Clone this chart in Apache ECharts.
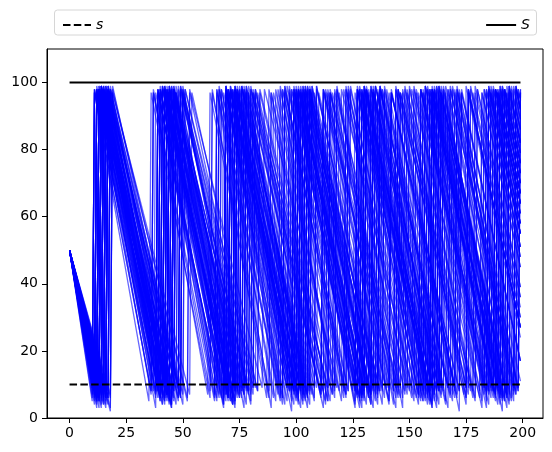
<!DOCTYPE html>
<html>
<head>
<meta charset="utf-8">
<script src="https://cdn.jsdelivr.net/npm/echarts@6/dist/echarts.min.js"></script>
<style>
html,body{margin:0;padding:0;background:#fff;}
#chart{width:552px;height:452px;}
</style>
</head>
<body>
<div id="chart"></div>
<script>
// (s, S) inventory policy levels
var sLevel = 10;
var SLevel = 100;
var startLevel = 50;
var horizonStart = 0;
var horizonEnd = 199;

var xTicks = [0, 25, 50, 75, 100, 125, 150, 175, 200];
var yTicks = [0, 20, 40, 60, 80, 100];

// per simulated path: the periods at which stock fell below s and was restocked
var jumpTimes = [
 [14,43,74,101,131,159,191],
 [11,38,68,94,127,156,184],
 [16,47,74,106,134,164,193],
 [13,42,68,99,126,159,187],
 [10,36,64,89,118,145,175],
 [17,50,81,111,143,172],
 [12,40,72,98,129,156,186],
 [15,45,73,106,133,164,194],
 [13,45,72,103,132,158,191],
 [11,39,66,96,122,151,182],
 [18,52,81,113,141,171,198],
 [14,41,72,100,129,162,190],
 [12,43,69,98,130,157,187],
 [16,45,77,104,135,163,193],
 [13,40,68,93,123,154,183],
 [15,45,76,104,134,161,192],
 [10,35,62,88,116,141,170,197],
 [17,49,77,108,138,171,198],
 [14,45,73,103,136,162,191],
 [12,38,67,98,125,155,183],
 [15,48,79,108,138,165,195],
 [13,40,70,100,128,154,185],
 [11,42,71,101,128,160,188],
 [16,44,74,105,137,164,193],
 [14,43,70,102,130,159,189],
 [12,41,72,99,132,160,189],
 [18,53,83,115,146,175],
 [13,45,76,105,133,163,191],
 [11,40,68,95,126,156,185],
 [15,46,72,103,133,162,192],
 [14,42,71,98,128,159,187],
 [12,44,73,104,133,166,194],
 [16,45,76,105,131,161,190],
 [13,43,75,106,136,167,196],
 [10,38,64,93,121,149,179],
 [17,46,78,111,141,172],
 [14,41,69,100,126,154,184],
 [12,43,73,102,132,161,189],
 [15,48,80,111,141,170],
 [13,42,70,101,130,158,188],
 [11,37,68,96,122,152,181],
 [14,44,77,105,136,163,193],
 [16,43,72,102,129,161,190],
 [12,42,69,102,130,160,191],
 [15,43,73,99,128,159,187],
 [13,46,75,103,133,160,190],
 [17,47,75,104,137,168,196],
 [11,41,70,101,129,155,185],
 [14,40,70,99,126,157,186],
 [16,48,77,104,134,162,193],
 [12,39,72,101,127,159,187],
 [15,44,70,102,133,160,189],
 [13,41,71,98,127,158,188],
 [10,39,69,97,128,155,184],
 [18,49,78,108,136,168,196],
 [14,46,74,104,135,163,192],
 [12,41,70,103,130,160,187],
 [16,44,75,103,132,162,194],
 [13,39,68,98,126,153,185],
 [11,44,71,100,130,158,189],
 [12,38,65,90,117,143,169,195],
 [15,48,80,114,145,178],
 [13,40,68,94,122,149,176],
 [16,48,79,112,144,175],
 [11,38,64,91,117,144,170,197],
 [14,45,77,107,138,169,198],
 [17,45,72,101,129,157,184],
 [12,45,79,111,144,176],
 [10,36,61,88,114,140,165,191],
 [15,45,76,105,135,166,196],
 [13,41,68,96,123,151,178],
 [16,49,81,114,146,179],
 [14,43,73,101,130,159,188],
 [11,36,62,87,113,139,164,190],
 [18,52,85,119,152,186],
 [13,42,70,99,127,156,184],
 [15,46,78,109,141,172],
 [12,39,66,94,121,147,175],
 [14,45,75,106,136,167,197],
 [16,49,82,114,148,181],
 [13,39,65,92,117,143,170,196],
 [11,41,70,100,129,159,188],
 [17,49,80,112,145,177],
 [14,42,70,97,126,154,182],
 [12,43,73,105,136,167,198],
 [15,41,68,94,121,147,174],
 [13,43,73,102,133,163,193],
 [10,38,65,92,120,148,175],
 [16,50,83,116,150,183],
 [14,43,72,100,130,159,188]
];

// stock level reached just before each restock
var lowLevels = [
 [7,5,8,6,4,9,7],
 [8,6,3,9,7,5,8],
 [5,9,7,4,8,6,3],
 [9,4,6,8,5,7,9],
 [6,8,5,3,9,6,4],
 [4,7,9,6,8,2],
 [8,5,7,9,3,8,6],
 [6,9,4,7,6,9,5],
 [7,3,8,5,9,4,8],
 [5,8,6,9,7,6,3],
 [3,6,9,5,8,7,9],
 [9,7,4,8,6,3,7],
 [6,8,7,2,9,5,8],
 [8,4,9,7,5,8,6],
 [7,9,5,6,8,4,9],
 [4,6,8,9,3,7,5],
 [9,5,6,8,7,9,6,8],
 [6,8,3,5,9,6,8],
 [5,7,9,4,6,8,2],
 [8,3,6,9,8,5,7],
 [7,9,8,6,4,9,5],
 [3,6,7,8,9,6,8],
 [9,8,5,7,6,4,9],
 [6,4,9,3,8,7,6],
 [8,7,6,9,5,8,4],
 [5,9,4,7,8,3,9],
 [2,7,8,5,9,6],
 [7,5,9,8,4,9,6],
 [9,6,7,4,8,5,8],
 [4,8,6,9,7,8,5],
 [8,6,9,5,3,7,9],
 [6,9,3,8,7,5,7],
 [7,4,8,6,9,8,4],
 [5,7,6,9,8,3,8],
 [9,8,7,5,6,9,6],
 [6,5,9,7,4,8],
 [8,9,5,6,9,7,3],
 [3,7,8,9,6,5,8],
 [7,6,4,8,5,9],
 [9,5,8,7,9,6,7],
 [6,8,4,9,7,5,8],
 [8,5,7,6,9,4,7],
 [4,9,6,8,5,7,6],
 [7,6,9,3,8,9,5],
 [9,7,5,8,6,4,8],
 [5,8,8,7,4,9,6],
 [6,4,7,9,8,6,9],
 [8,9,6,5,7,8,4],
 [7,5,9,8,3,6,8],
 [3,8,7,6,9,5,7],
 [9,6,8,4,7,8,6],
 [6,7,5,9,8,3,9],
 [8,4,9,7,6,9,5],
 [5,9,7,8,5,6,7],
 [7,6,4,9,8,7,9],
 [9,8,6,5,9,8,6],
 [4,7,8,6,7,5,8],
 [8,5,9,7,6,9,4],
 [6,9,7,8,4,6,7],
 [7,8,5,9,8,7,9],
 [5,7,9,6,8,4,7,6],
 [8,6,5,9,7,8],
 [6,9,8,4,6,7,9],
 [9,5,7,8,3,9],
 [7,8,6,5,9,6,8,7],
 [4,6,9,7,8,5,9],
 [8,7,4,9,6,8,5],
 [6,3,8,7,9,7],
 [9,8,7,6,5,9,8,6],
 [5,9,6,8,7,4,7],
 [7,4,9,5,8,9,6],
 [8,6,7,9,6,5],
 [3,8,5,7,9,8,7],
 [9,7,8,6,4,6,9,8],
 [6,5,9,8,7,9],
 [8,9,6,4,9,7,8],
 [7,6,8,9,5,8],
 [5,8,7,6,8,3,9],
 [9,4,6,8,7,9,7],
 [6,7,9,5,8,6],
 [8,9,5,7,6,8,9,5],
 [4,6,8,9,7,5,6],
 [7,8,7,3,9,8],
 [9,5,6,8,8,7,5],
 [6,9,8,7,4,9,8],
 [8,7,4,6,9,6,7],
 [5,6,9,8,7,8,9],
 [7,8,6,9,5,7,6],
 [9,4,8,7,8,9],
 [6,7,9,5,6,8,7]
];

// stock level one period after each restock
var peakLevels = [98,97,99,98,97,98,99,97,98,98,97,99,98,97,98,99,97,98,98,97,
                  99,98,97,98,99,98,97,98,99,97,98,98,97,99,98,97,98,99,98,97,
                  97,99,98,98,97,99,98,97,98,99,98,97,98,98,99,97,98,99,97,98,
                  98,97,99,98,98,97,99,98,97,98,99,98,97,98,98,99,97,98,98,97,
                  99,98,97,98,98,99,97,98,98,97];

// stock level at the last period
var endLevels = [76,55,82,64,27,17,61,86,76,48,98,73,64,82,51,79,95,98,76,51,
                 89,58,67,82,70,70,27,76,58,79,64,86,73,92,39,17,55,70,11,67,
                 45,82,73,76,64,73,92,58,61,82,64,70,67,55,92,79,64,86,58,70,
                 89,36,30,27,95,98,55,30,76,92,36,39,67,73,61,55,17,27,95,45,
                 92,67,33,48,98,24,82,27,51,67];

var series = [];
for (var i = 0; i < jumpTimes.length; i++) {
  var pts = [[horizonStart, startLevel]];
  for (var k = 0; k < jumpTimes[i].length; k++) {
    pts.push([jumpTimes[i][k], lowLevels[i][k]]);
    pts.push([jumpTimes[i][k] + 1, peakLevels[i]]);
  }
  if (pts[pts.length - 1][0] < horizonEnd) pts.push([horizonEnd, endLevels[i]]);
  series.push({
    type: 'line', data: pts, symbol: 'none', silent: true,
    lineStyle: {color: '#0000ff', width: 1.3, opacity: 0.6},
    z: 2
  });
}
series.push({
  name: 's', type: 'line', symbol: 'none', silent: true,
  data: [[horizonStart, sLevel], [horizonEnd, sLevel]],
  lineStyle: {color: '#000', width: 2, type: [7.5, 3.3]},
  itemStyle: {color: '#000'}, z: 5
});
series.push({
  name: 'S', type: 'line', symbol: 'none', silent: true,
  data: [[horizonStart, SLevel], [horizonEnd, SLevel]],
  lineStyle: {color: '#000', width: 2},
  itemStyle: {color: '#000'}, z: 5
});

var font = 'DejaVu Sans';
var chart = echarts.init(document.getElementById('chart'), null, {renderer: 'canvas'});
chart.setOption({
  animation: false,
  backgroundColor: '#fff',
  grid: {left: 47, right: 9, top: 49, bottom: 34, show: true, borderColor: '#000', borderWidth: 1},
  legend: [
    {data: ['s'], left: 57, top: 13, itemWidth: 28, itemHeight: 14, itemGap: 10,
     itemStyle: {opacity: 0},
     textStyle: {fontFamily: font, fontSize: 14, fontStyle: 'italic', color: '#000'}},
    {data: ['S'], right: 17, top: 13, itemWidth: 30, itemHeight: 14,
     itemStyle: {opacity: 0},
     textStyle: {fontFamily: font, fontSize: 14, fontStyle: 'italic', color: '#000'}}
  ],
  graphic: [{
    type: 'rect', left: 54, top: 9.5, z: 0, silent: true,
    shape: {width: 482, height: 25, r: 3},
    style: {fill: '#fff', stroke: '#d6d6d6', lineWidth: 1}
  }],
  xAxis: {
    type: 'value', min: -9.95, max: 208.95,
    axisLine: {show: true, onZero: false, lineStyle: {color: '#000', width: 1}},
    axisTick: {show: true, length: 5, lineStyle: {color: '#000'}, customValues: xTicks},
    axisLabel: {fontFamily: font, fontSize: 14, color: '#000', margin: 8, customValues: xTicks},
    splitLine: {show: false}
  },
  yAxis: {
    type: 'value', min: 0, max: 110,
    axisLine: {show: true, onZero: false, lineStyle: {color: '#000', width: 1}},
    axisTick: {show: true, length: 5, lineStyle: {color: '#000'}, customValues: yTicks},
    axisLabel: {fontFamily: font, fontSize: 14, color: '#000', margin: 9, customValues: yTicks},
    splitLine: {show: false}
  },
  series: series
});
</script>
</body>
</html>
